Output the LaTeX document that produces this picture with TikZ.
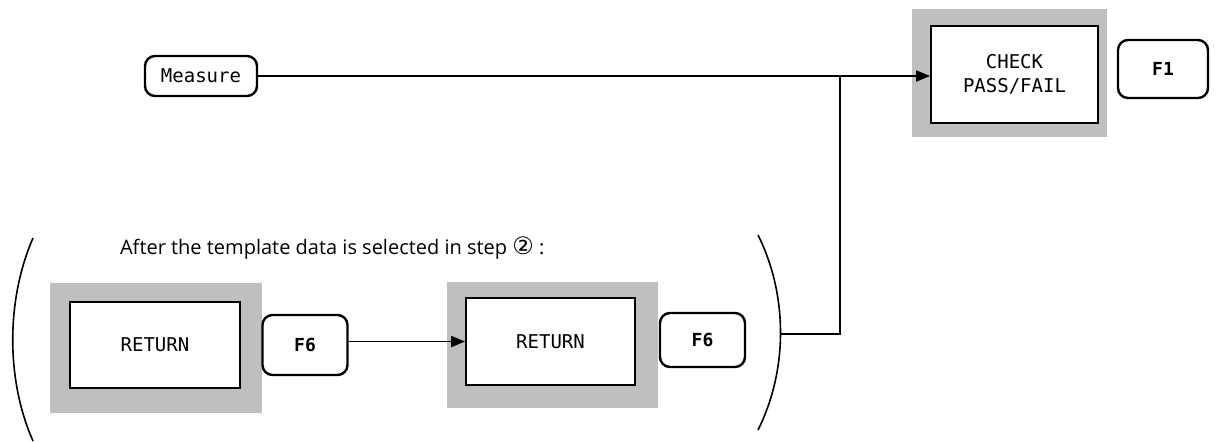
\documentclass[tikz,border=0pt]{standalone}
\usepackage{fontspec}
\setmainfont{Open Sans}
\setmonofont{DejaVu Sans Mono}
\newfontfamily\circfont{DejaVu Sans}
\usetikzlibrary{arrows.meta, positioning}

\tikzset{
	keybox/.style={draw, line width=1.2pt, rounded corners=5pt, inner sep=0pt, font=\ttfamily\bfseries\fontsize{9}{10}\selectfont},
	shadebox/.style={fill=black!25, draw=none, inner sep=0pt},
	screenbox/.style={draw, fill=white, line width=0.9pt, inner sep=0pt, align=center, font=\ttfamily\fontsize{9.5}{12}\selectfont},
	flow/.style={line width=0.9pt},
	flowarr/.style={flow, -{Triangle[length=7pt, width=5.5pt]}}
}

\begin{document}
\begin{tikzpicture}[x=0.5pt, y=-0.5pt]
	\useasboundingbox (0,0) rectangle (1223,441);
	% top row
	\node[keybox, font=\ttfamily\fontsize{9.5}{10}\selectfont, minimum width=56pt, minimum height=20pt] (measure) at (201,76) {Measure};
	\node[shadebox, minimum width=97.5pt, minimum height=64pt] (chkbg) at (1009.5,73) {};
	\node[screenbox, minimum width=83.5pt, minimum height=48.5pt] (chk) at (1014.5,74.5) {CHECK\\PASS/FAIL};
	\node[keybox, minimum width=45pt, minimum height=29pt] (fone) at (1163,69) {F1};
	% bracketed part
	\node[anchor=west, font=\fontsize{10}{12}\selectfont] (note) at (113,248) {After the template data is selected in step {\circfont\fontsize{12}{12}\selectfont ②} :};
	\node[shadebox, minimum width=106pt, minimum height=65pt] (retAbg) at (156,348) {};
	\node[screenbox, minimum width=85pt, minimum height=43pt] (retA) at (155,345) {RETURN};
	\node[keybox, minimum width=42.5pt, minimum height=30pt] (fsixA) at (305,345) {F6};
	\node[shadebox, minimum width=105.5pt, minimum height=63pt] (retBbg) at (552.5,345) {};
	\node[screenbox, minimum width=84.5pt, minimum height=43.5pt] (retB) at (550.5,341.5) {RETURN};
	\node[keybox, minimum width=42.5pt, minimum height=27pt] (fsixB) at (702.5,340) {F6};
	% parentheses
	\draw[line width=0.8pt] (33,238) .. controls (6,300) and (6,380) .. (33,441);
	\coordinate (rpar) at (781,334);
	\draw[line width=0.8pt] (758,235) .. controls (788,295) and (788,370) .. (758,430);
	% connectors
	\coordinate (jn) at (840,334);
	\draw[flowarr] (measure.east) -- (measure.east -| chk.west);
	\draw[flow] (rpar) -- (jn) -- (jn |- measure.east);
	\draw[flowarr] (fsixA.east |- retB.west) -- (retB.west);
\end{tikzpicture}
\end{document}
